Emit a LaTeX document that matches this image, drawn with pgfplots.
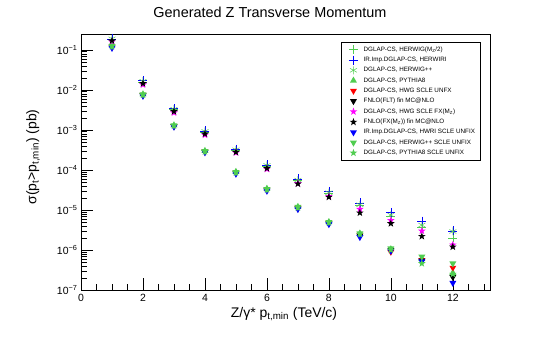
\documentclass[border=0pt]{standalone}
\usepackage{fontspec}
\setmainfont{Liberation Sans}
\usepackage{pgfplots}
\pgfplotsset{compat=1.18}
\usetikzlibrary{plotmarks}
\definecolor{rgreen}{RGB}{80,205,80}
\definecolor{rblue}{RGB}{0,0,255}
\definecolor{rred}{RGB}{255,0,0}
\definecolor{rmag}{RGB}{255,0,255}
\pgfdeclareplotmark{fstar}{%
  \pgfpathmoveto{\pgfpointpolar{90}{\pgfplotmarksize}}%
  \pgfpathlineto{\pgfpointpolar{126}{0.4\pgfplotmarksize}}%
  \pgfpathlineto{\pgfpointpolar{162}{\pgfplotmarksize}}%
  \pgfpathlineto{\pgfpointpolar{198}{0.4\pgfplotmarksize}}%
  \pgfpathlineto{\pgfpointpolar{234}{\pgfplotmarksize}}%
  \pgfpathlineto{\pgfpointpolar{270}{0.4\pgfplotmarksize}}%
  \pgfpathlineto{\pgfpointpolar{306}{\pgfplotmarksize}}%
  \pgfpathlineto{\pgfpointpolar{342}{0.4\pgfplotmarksize}}%
  \pgfpathlineto{\pgfpointpolar{18}{\pgfplotmarksize}}%
  \pgfpathlineto{\pgfpointpolar{54}{0.4\pgfplotmarksize}}%
  \pgfpathclose\pgfusepathqfill}
\pgfdeclareplotmark{ftridown}{%
  \pgfpathmoveto{\pgfpointpolar{270}{\pgfplotmarksize}}%
  \pgfpathlineto{\pgfpointpolar{30}{\pgfplotmarksize}}%
  \pgfpathlineto{\pgfpointpolar{150}{\pgfplotmarksize}}%
  \pgfpathclose\pgfusepathqfill}
\pgfdeclareplotmark{ftriup}{%
  \pgfpathmoveto{\pgfpointpolar{90}{\pgfplotmarksize}}%
  \pgfpathlineto{\pgfpointpolar{210}{\pgfplotmarksize}}%
  \pgfpathlineto{\pgfpointpolar{330}{\pgfplotmarksize}}%
  \pgfpathclose\pgfusepathqfill}
\begin{document}
\begin{tikzpicture}[x=1bp,y=1bp]
\useasboundingbox (-81,-52) rectangle (464,290);
\begin{axis}[
  at={(0,0)}, anchor=south west,
  scale only axis, width=409bp, height=256bp,
  xmin=0, xmax=13.2,
  ymode=log, ymin=1e-7, ymax=0.25,
  axis line style={line width=0.8pt},
  tick style={black, line width=0.6pt},
  xtick={0,2,4,6,8,10,12},
  minor xtick={0.5,1,...,13},
  ytick={1e-7,1e-6,1e-5,1e-4,1e-3,1e-2,1e-1},
  yticklabels={10\textsuperscript{−7},10\textsuperscript{−6},10\textsuperscript{−5},10\textsuperscript{−4},10\textsuperscript{−3},10\textsuperscript{−2},10\textsuperscript{−1}},
  xticklabels={0,2,4,6,8,10,12},
  tick align=inside,
  xtick pos=bottom, ytick pos=left,
  major tick length=12bp, minor tick length=6bp,
  ticklabel style={font=\fontsize{10.5}{12}\selectfont},
  xticklabel style={yshift=-1bp},
  clip=false,
  legend cell align=left,
  legend style={at={(0.976,0.969)}, anchor=north east, draw=black, line width=0.5pt,
    font=\fontsize{6.3}{7}\selectfont, row sep=0.4bp, inner xsep=3bp, inner ysep=2.5bp,
    /tikz/every even column/.append style={column sep=2bp}},
  legend image code/.code={\path (0bp,0bp) (17bp,0bp); \draw plot coordinates {(9bp,0bp)};},
]
% 1 DGLAP-CS, HERWIG(MZ/2)
\addplot[only marks, mark=+, mark size=4.5bp, rgreen, line width=0.5pt] coordinates {
(1,0.185) (2,0.016) (3,0.0032) (4,8.8e-4) (5,3.1e-4) (6,1.25e-4) (7,5.4e-5) (8,2.6e-5) (9,1.3e-5) (10,7.0e-6) (11,3.6e-6) (12,2.0e-6)};
\addlegendentry{DGLAP-CS, HERWIG(M\textsubscript{Z}/2)}
% 2 IR.Imp.DGLAP-CS, HERWIRI
\addplot[only marks, mark=+, mark size=4.5bp, rblue, line width=0.5pt] coordinates {
(1,0.19) (2,0.017) (3,0.0034) (4,9.5e-4) (5,3.3e-4) (6,1.35e-4) (7,6.0e-5) (8,2.9e-5) (9,1.5e-5) (10,8.7e-6) (11,5.3e-6) (12,3.0e-6)};
\addlegendentry{IR.Imp.DGLAP-CS, HERWIRI}
% 3 DGLAP-CS, HERWIG++
\addplot[only marks, mark=asterisk, mark size=4bp, rgreen, line width=0.5pt] coordinates {
(1,0.19) (2,0.0165) (3,0.0033) (4,9.2e-4) (5,3.2e-4) (6,1.3e-4) (7,5.6e-5) (8,2.7e-5) (9,1.35e-5) (10,7.5e-6) (11,4.2e-6) (12,2.9e-6)};
\addlegendentry{DGLAP-CS, HERWIG++}
% 4 DGLAP-CS, PYTHIA8
\addplot[only marks, mark=ftriup, mark size=4bp, rgreen] coordinates {
(1,0.13) (2,0.0078) (3,0.0013) (4,3.0e-4) (5,9.0e-5) (6,3.4e-5) (7,1.2e-5) (8,5.0e-6) (9,2.6e-6) (10,1.05e-6) (11,6.0e-7) (12,2.7e-7)};
\addlegendentry{DGLAP-CS, PYTHIA8}
% 5 DGLAP-CS, HWG SCLE UNFX
\addplot[only marks, mark=ftridown, mark size=4bp, rred] coordinates {
(1,0.12) (2,0.0075) (3,0.00125) (4,2.9e-4) (5,8.6e-5) (6,3.2e-5) (7,1.15e-5) (8,4.8e-6) (9,2.4e-6) (10,0.9e-6) (11,5.6e-7) (12,3.6e-7)};
\addlegendentry{DGLAP-CS, HWG SCLE UNFX}
% 6 FNLO(FLT) fin MC@NLO
\addplot[only marks, mark=ftridown, mark size=4bp, black] coordinates {
(1,0.12) (2,0.0074) (3,0.00125) (4,2.85e-4) (5,8.5e-5) (6,3.2e-5) (7,1.1e-5) (8,4.7e-6) (9,2.3e-6) (10,1.0e-6) (11,5.4e-7) (12,2.1e-7)};
\addlegendentry{FNLO(FLT) fin MC@NLO}
% 7 DGLAP-CS, HWG SCLE FX(MZ)
\addplot[only marks, mark=fstar, mark size=4bp, rmag] coordinates {
(1,0.16) (2,0.0135) (3,0.0027) (4,7.5e-4) (5,2.7e-4) (6,1.05e-4) (7,4.6e-5) (8,2.2e-5) (9,1.05e-5) (10,5.5e-6) (11,3.0e-6) (12,1.35e-6)};
\addlegendentry{DGLAP-CS, HWG SCLE FX(M\textsubscript{Z})}
% 8 FNLO(FX(MZ)) fin MC@NLO
\addplot[only marks, mark=fstar, mark size=4bp, black] coordinates {
(1,0.17) (2,0.0145) (3,0.0029) (4,8.0e-4) (5,2.8e-4) (6,1.1e-4) (7,4.5e-5) (8,2.1e-5) (9,8.5e-6) (10,4.6e-6) (11,2.2e-6) (12,1.2e-6)};
\addlegendentry{FNLO(FX(M\textsubscript{Z})) fin MC@NLO}
% 9 IR.Imp.DGLAP-CS, HWRI SCLE UNFIX
\addplot[only marks, mark=ftridown, mark size=4bp, rblue] coordinates {
(1,0.112) (2,0.0071) (3,0.0012) (4,2.75e-4) (5,8.0e-5) (6,3.0e-5) (7,1.05e-5) (8,4.4e-6) (9,2.1e-6) (10,0.95e-6) (11,5.2e-7) (12,1.5e-7)};
\addlegendentry{IR.Imp.DGLAP-CS, HWRI SCLE UNFIX}
% 10 DGLAP-CS, HERWIG++ SCLE UNFIX
\addplot[only marks, mark=ftridown, mark size=4bp, rgreen] coordinates {
(1,0.125) (2,0.0077) (3,0.0013) (4,2.95e-4) (5,8.8e-5) (6,3.3e-5) (7,1.2e-5) (8,5.0e-6) (9,2.6e-6) (10,1.1e-6) (11,6.8e-7) (12,4.6e-7)};
\addlegendentry{DGLAP-CS, HERWIG++ SCLE UNFIX}
% 11 DGLAP-CS, PYTHIA8 SCLE UNFIX
\addplot[only marks, mark=fstar, mark size=4bp, rgreen] coordinates {
(1,0.125) (2,0.0076) (3,0.0013) (4,2.9e-4) (5,8.7e-5) (6,3.3e-5) (7,1.15e-5) (8,4.9e-6) (9,2.5e-6) (10,1.0e-6) (11,4.6e-7) (12,2.5e-7)};
\addlegendentry{DGLAP-CS, PYTHIA8 SCLE UNFIX}
\end{axis}
\node[font=\fontsize{14.5}{16}\selectfont] at (189,278) {Generated Z Transverse Momentum};
\node[font=\fontsize{14}{16}\selectfont, rotate=90] at (-48,133) {σ(p\textsubscript{t}>p\textsubscript{t,min}) (pb)};
\node[font=\fontsize{14}{16}\selectfont] at (203,-24) {Z/γ* p\textsubscript{t,min} (TeV/c)};
\end{tikzpicture}
\end{document}
